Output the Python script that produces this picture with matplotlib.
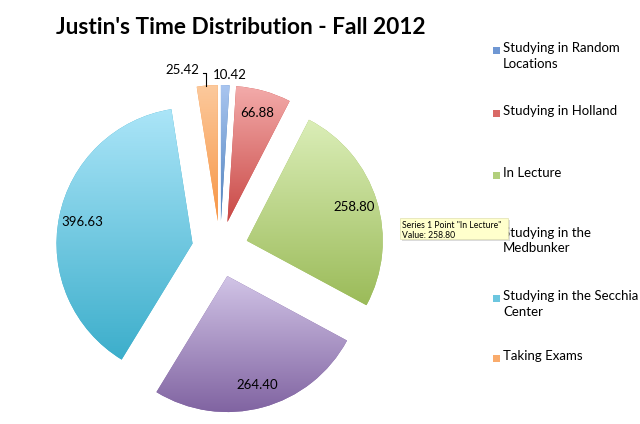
import numpy as np
import matplotlib
matplotlib.use("Agg")
import matplotlib.pyplot as plt
from matplotlib.colors import LinearSegmentedColormap
from matplotlib.patches import Rectangle

categories = ["Studying in Random\nLocations", "Studying in Holland", "In Lecture",
              "Studying in the\nMedbunker", "Studying in the Secchia\nCenter", "Taking Exams"]
values = [10.42, 66.88, 258.80, 264.40, 396.63, 25.42]
title = "Justin's Time Distribution - Fall 2012"

top_colors = ["#aac6f0", "#f3abaa", "#dbeeb8", "#d2c5e7", "#abe5f8", "#fcc99c"]
bot_colors = ["#4f81bd", "#c94845", "#9bbb59", "#8063a1", "#3caecb", "#f79646"]
leg_colors = ["#6f97d3", "#d96966", "#b2cf7c", "#d8d8d8", "#6cc6df", "#f9ab6c"]

plt.rcParams['font.family'] = ['Lato', 'DejaVu Sans']

W, H = 640, 424
fig = plt.figure(figsize=(W / 100, H / 100), dpi=100)
ax = fig.add_axes([0, 0, 1, 1])

def Y(y):
    return H - y

wedges, _ = ax.pie(values, startangle=90, counterclock=False, radius=136,
                   center=(220, Y(249)), explode=[28] * len(values),
                   colors=bot_colors, wedgeprops=dict(linewidth=0))

grad = np.linspace(1, 0, 256)[:, None]
for w, c0, c1 in zip(wedges, top_colors, bot_colors):
    path = w.get_path().transformed(w.get_patch_transform())
    v = path.vertices
    x0, x1 = v[:, 0].min(), v[:, 0].max()
    y0, y1 = v[:, 1].min(), v[:, 1].max()
    cmap = LinearSegmentedColormap.from_list("g", [c0, c1])
    im = ax.imshow(grad, extent=[x0, x1, y0, y1], origin="lower", cmap=cmap,
                   vmin=0, vmax=1, aspect="auto", interpolation="bilinear", zorder=2)
    im.set_clip_path(w)

# value labels on large slices
for i, w in enumerate(wedges):
    if values[i] < 50:
        continue
    th = np.deg2rad(0.5 * (w.theta1 + w.theta2))
    cx, cy = w.center
    f = 0.83 * w.r
    ax.text(cx + f * np.cos(th), cy + f * np.sin(th), f"{values[i]:.2f}",
            ha="center", va="center", fontsize=9.5, color="black", zorder=5)

# small slice labels
ax.text(230, Y(75), f"{values[0]:.2f}", ha="center", va="center", fontsize=9.5, zorder=5)
ax.text(182, Y(70), f"{values[5]:.2f}", ha="center", va="center", fontsize=9.5, zorder=5)
ax.plot([203, 206, 206], [Y(73), Y(73), Y(86)], color="black", lw=0.8, zorder=5)

# title
ax.text(241, Y(28), title, ha="center", va="center", fontsize=16.3, fontweight="bold", zorder=5)

# legend
leg_y = [50, 113, 175, 235, 298, 358]
for i, (lab, ly) in enumerate(zip(categories, leg_y)):
    ax.add_patch(Rectangle((493, Y(ly) - 3.5), 7, 7, facecolor=leg_colors[i],
                           edgecolor="none", zorder=5))
    ax.text(503, Y(ly) + 8, lab, ha="left", va="top", fontsize=9.5, linespacing=1.35, zorder=5)

# tooltip
ax.add_patch(Rectangle((402, Y(241)), 108, 21, facecolor="#999999", alpha=0.35,
                       edgecolor="none", zorder=6))
ax.add_patch(Rectangle((400, Y(239)), 108, 21, facecolor="#ffffcc", edgecolor="#e0e0b0",
                       lw=0.5, zorder=7))
ax.text(402, Y(221), 'Series 1 Point "In Lecture"\nValue: 258.80', ha="left", va="top",
        fontsize=6.2, linespacing=1.1, zorder=8)

ax.set_xlim(0, W)
ax.set_ylim(0, H)
ax.set_aspect("equal")
ax.axis("off")
fig.savefig("out.png", dpi=100)
